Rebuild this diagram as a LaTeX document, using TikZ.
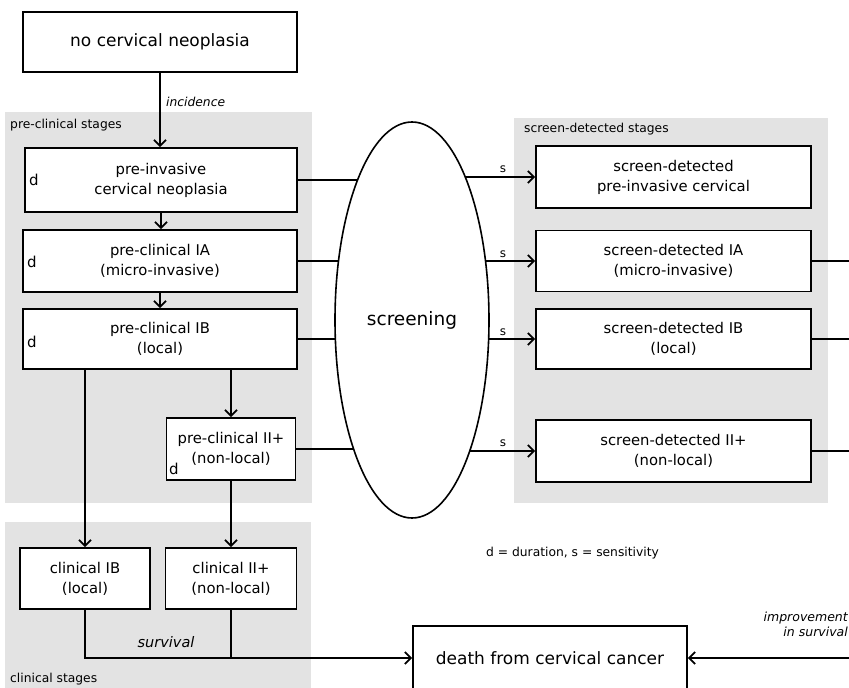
\documentclass[tikz,border=0pt]{standalone}
\usepackage{fontspec}
\setmainfont{DejaVu Sans}
\usetikzlibrary{arrows.meta,shapes.geometric}
\begin{document}
\begin{tikzpicture}[x=1pt,y=-1pt,
  box/.style={draw,line width=1.7pt,fill=white,align=center,inner sep=0pt,font=\fontsize{14.8}{20}\selectfont},
  region/.style={fill=black!11,draw=none},
  conn/.style={line width=1.6pt},
  arr/.style={line width=1.6pt,-{Straight Barb[length=6pt,width=12pt,line width=1.8pt]}},
  small/.style={font=\fontsize{12.3}{14}\selectfont,inner sep=0pt},
  slab/.style={font=\fontsize{12}{14}\selectfont,inner sep=0pt},
  dlab/.style={font=\fontsize{15}{16}\selectfont,inner sep=0pt}]
\useasboundingbox (0,0) rectangle (849,688);
% shaded regions
\fill[region] (5,112) rectangle (312,503);
\fill[region] (5,522) rectangle (311,688);
\fill[region] (514,118) rectangle (828,503);
% region labels
\node[small,anchor=west] (lpre) at (10,125) {pre-clinical stages};
\node[small,anchor=west] (lscr) at (524,129) {screen-detected stages};
\node[small,anchor=west] (lcli) at (10,679) {clinical stages};
% boxes
\node[box,minimum width=274,minimum height=60,font=\fontsize{17}{20}\selectfont] (nocn) at (160,42) {no cervical neoplasia};
\node[box,minimum width=272,minimum height=64] (preinv) at (161,180) {pre-invasive\\cervical neoplasia};
\node[box,minimum width=274,minimum height=62] (preIA) at (160,261) {pre-clinical IA\\(micro-invasive)};
\node[box,minimum width=274,minimum height=60] (preIB) at (160,339) {pre-clinical IB\\(local)};
\node[box,minimum width=129,minimum height=62] (preII) at (231,449) {pre-clinical II+\\(non-local)};
\node[box,minimum width=130,minimum height=61] (clinIB) at (85,578.5) {clinical IB\\(local)};
\node[box,minimum width=131,minimum height=61] (clinII) at (231,578.5) {clinical II+\\(non-local)};
\node[box,minimum width=274,minimum height=64,font=\fontsize{17}{20}\selectfont] (death) at (550,658) {death from cervical cancer};
\node[box,minimum width=275,minimum height=62] (sd1) at (673.5,177) {screen-detected\\pre-invasive cervical};
\node[box,minimum width=275,minimum height=61] (sd2) at (673.5,261) {screen-detected IA\\(micro-invasive)};
\node[box,minimum width=275,minimum height=60] (sd3) at (673.5,339) {screen-detected IB\\(local)};
\node[box,minimum width=275,minimum height=62] (sd4) at (673.5,451) {screen-detected II+\\(non-local)};
% d labels
\node[dlab,anchor=west] (d1) at (29,180) {d};
\node[dlab,anchor=west] (d2) at (27,262) {d};
\node[dlab,anchor=west] (d3) at (27,342) {d};
\node[dlab,anchor=west] (d4) at (169,469) {d};
% screening ellipse
\coordinate (scrc) at (412,320);
\coordinate (edge) at (849,0);
\draw[conn] (preinv.east) -- (preinv.east -| scrc);
\draw[conn] (preIA.east) -- (preIA.east -| scrc);
\draw[conn] (preIB.east) -- (preIB.east -| scrc);
\draw[conn] (preII.east) -- (preII.east -| scrc);
\draw[arr] (sd1.west -| scrc) -- (sd1.west);
\draw[arr] (sd2.west -| scrc) -- (sd2.west);
\draw[arr] (sd3.west -| scrc) -- (sd3.west);
\draw[arr] (sd4.west -| scrc) -- (sd4.west);
\node[ellipse,draw,line width=1.6pt,fill=white,minimum width=154,minimum height=396,inner sep=0pt,font=\fontsize{18.5}{20}\selectfont] (scr) at (scrc) {screening};
% s labels
\node[slab] (s1) at (503,169) {s};
\node[slab] (s2) at (503,254) {s};
\node[slab] (s3) at (503,332) {s};
\node[slab] (s4) at (503,443) {s};
% right-side exits
\draw[line width=1.4pt] (sd2.east) -- (sd2.east -| edge);
\draw[line width=1.4pt] (sd3.east) -- (sd3.east -| edge);
\draw[line width=1.4pt] (sd4.east) -- (sd4.east -| edge);
% vertical flow
\draw[arr] (nocn.south) -- (nocn.south |- preinv.north);
\node[small,anchor=west,font=\itshape\fontsize{12.3}{14}\selectfont] (linc) at (166,102) {incidence};
\draw[arr] (preinv.south) -- (preinv.south |- preIA.north);
\draw[arr] (preIA.south) -- (preIA.south |- preIB.north);
\draw[arr] (preIB.south -| clinIB.north) -- (clinIB.north);
\draw[arr] (preIB.south -| preII.north) -- (preII.north);
\draw[arr] (preII.south -| clinII.north) -- (clinII.north);
% survival
\draw[arr] (clinIB.south) |- (death.west);
\draw[conn] (clinII.south) -- (clinII.south |- death.west);
\node[small,font=\itshape\fontsize{14.5}{16}\selectfont] (lsurv) at (166,642) {survival};
% improvement
\coordinate (imp) at (849,658);
\draw[arr] (imp) -- (death.east);
\node[small,anchor=east,align=right,font=\itshape\fontsize{12.5}{15}\selectfont] (limp) at (848,624) {improvement\\in survival};
% legend
\node[small,anchor=west] (legend) at (486,553) {d = duration, s = sensitivity};
\end{tikzpicture}
\end{document}
